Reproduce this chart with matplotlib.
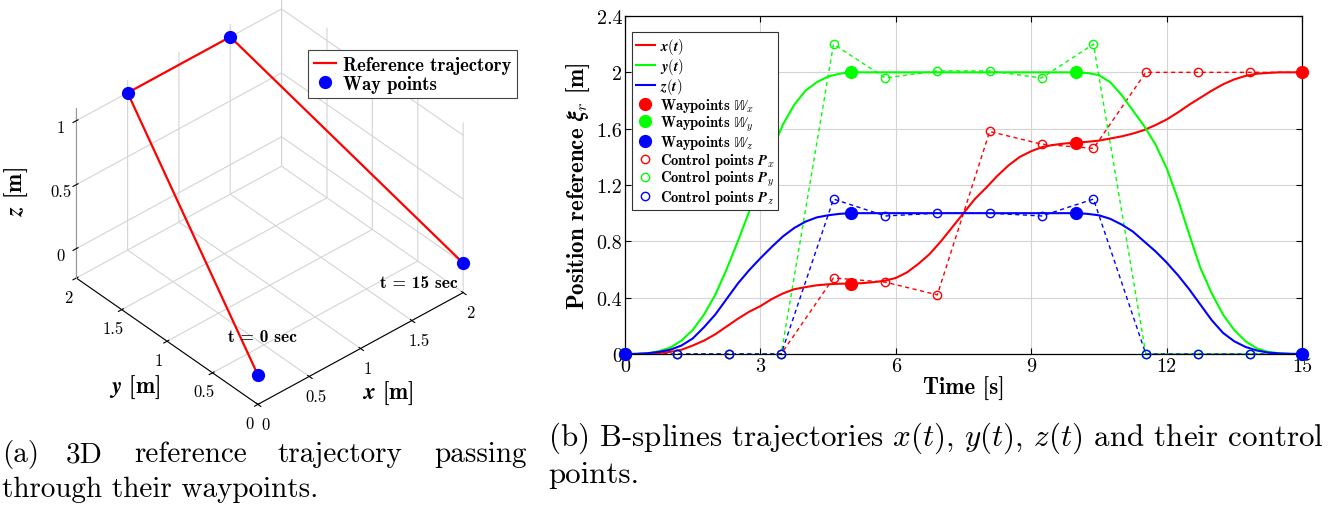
import numpy as np
import matplotlib
matplotlib.use("Agg")
import matplotlib.pyplot as plt

plt.rcParams['font.family'] = 'cmr10'
plt.rcParams['mathtext.fontset'] = 'cm'
plt.rcParams['axes.formatter.use_mathtext'] = True
plt.rcParams['grid.color'] = '#d4d4d4'
plt.rcParams['grid.linewidth'] = 0.8

# waypoints (t = 0, 5, 10, 15 s)
way_t = [0, 5, 10, 15]
way_x = [0, 0.5, 1.5, 2]
way_y = [0, 2, 2, 0]
way_z = [0, 1, 1, 0]

# control points of the B-splines
ctrl_t = [0, 1.15, 2.31, 3.46, 4.62, 5.77, 6.92, 8.08, 9.23, 10.38, 11.54, 12.69, 13.85, 15]
ctrl_x = [0, 0, 0, 0, 0.54, 0.51, 0.42, 1.58, 1.49, 1.46, 2, 2, 2, 2]
ctrl_y = [0, 0, 0, 0, 2.2, 1.96, 2.01, 2.01, 1.96, 2.2, 0, 0, 0, 0]
ctrl_z = [0, 0, 0, 0, 1.1, 0.98, 1.0, 1.0, 0.98, 1.1, 0, 0, 0, 0]

# trajectories every 0.25 s
time = np.arange(0, 15.25, 0.25)
traj_x = [0, 0.0, 0.002, 0.007, 0.015, 0.03, 0.06, 0.095, 0.14, 0.195, 0.25, 0.30, 0.34, 0.39,
          0.43, 0.46, 0.475, 0.488, 0.495, 0.499, 0.5,
          0.503, 0.51, 0.52, 0.54, 0.58, 0.64, 0.71, 0.80, 0.90, 1.0, 1.10, 1.18, 1.265, 1.34,
          1.40, 1.44, 1.47, 1.485, 1.495, 1.5,
          1.507, 1.515, 1.53, 1.545, 1.565, 1.59, 1.625, 1.665, 1.715, 1.77, 1.82, 1.87, 1.915,
          1.95, 1.975, 1.99, 1.996, 2.0, 2.0, 2.0]
traj_y = [0, 0.0, 0.005, 0.02, 0.045, 0.095, 0.17, 0.28, 0.42, 0.60, 0.80, 1.01, 1.22, 1.44,
          1.63, 1.77, 1.87, 1.93, 1.97, 1.99, 2.0,
          2.0, 2.0, 2.0, 2.0, 2.0, 2.0, 2.0, 2.0, 2.0, 2.0, 2.0, 2.0, 2.0, 2.0,
          2.0, 2.0, 2.0, 2.0, 2.0, 2.0,
          1.995, 1.98, 1.93, 1.84, 1.73, 1.62, 1.49, 1.32, 1.10, 0.85, 0.61, 0.43, 0.28,
          0.17, 0.09, 0.04, 0.015, 0.005, 0.001, 0]
traj_z = [0, 0.001, 0.005, 0.015, 0.03, 0.06, 0.11, 0.19, 0.28, 0.39, 0.50, 0.595, 0.68, 0.76,
          0.835, 0.895, 0.94, 0.97, 0.985, 0.995, 1.0,
          1.0, 1.0, 1.0, 1.0, 1.0, 1.0, 1.0, 1.0, 1.0, 1.0, 1.0, 1.0, 1.0, 1.0,
          1.0, 1.0, 1.0, 1.0, 1.0, 1.0,
          0.995, 0.985, 0.96, 0.92, 0.87, 0.80, 0.73, 0.65, 0.56, 0.46, 0.35, 0.24, 0.15,
          0.09, 0.05, 0.025, 0.01, 0.004, 0.001, 0]

W, H = 1338, 506
fig = plt.figure(figsize=(W / 100, H / 100), dpi=100)

# ---------------- (a) 3D trajectory ----------------
ax1 = fig.add_axes([-5 / W, 30 / H, 535 / W, 535 / H], projection='3d')
ax1.set_proj_type('ortho')
ax1.set_box_aspect((4, 4, 3.15), zoom=0.805)
ax1.plot(way_x, way_y, way_z, color='red', lw=1.6, label='Reference trajectory')
ax1.plot(way_x, way_y, way_z, 'o', color='blue', ms=8.5, label='Way points')
ax1.set_xlim(0, 2)
ax1.set_ylim(0, 2)
ax1.set_zlim(-0.23, 1.1)
ax1.set_xticks([0, 0.5, 1, 1.5, 2])
ax1.set_yticks([0, 0.5, 1, 1.5, 2])
ax1.set_zticks([0, 0.5, 1])
ax1.set_xticklabels(['0', '0.5', '1', '1.5', '2'])
ax1.set_yticklabels(['0', '0.5', '1', '1.5', '2'])
ax1.set_zticklabels(['0', '0.5', '1'])
ax1.tick_params(labelsize=12, pad=0)
ax1.view_init(elev=38, azim=-131.5)
for a in (ax1.xaxis, ax1.yaxis, ax1.zaxis):
    a.set_pane_color((1, 1, 1, 0))
    a.pane.set_edgecolor('#d4d4d4')
    a.set_rotate_label(False)
ax1.xaxis.line.set_color('black')
ax1.yaxis.line.set_color('black')
ax1.zaxis.line.set_color('#999999')
ax1.set_xlabel(r'$\mathbfit{x}$ [m]', fontfamily='cmb10', fontsize=16.5, labelpad=9)
ax1.set_ylabel(r'$\mathbfit{y}$ [m]', fontfamily='cmb10', fontsize=16.5, labelpad=11)
ax1.set_zlabel(r'$\mathbfit{z}$ [m]', fontfamily='cmb10', fontsize=16.5, rotation=90, labelpad=10)
leg1 = ax1.legend(loc='upper left', bbox_to_anchor=(308 / W, 1 - 51 / H),
                  bbox_transform=fig.transFigure, prop={'family': 'cmb10', 'size': 13.4},
                  fancybox=False, edgecolor='#444444', framealpha=1, borderpad=0.3,
                  labelspacing=0.05, handlelength=1.2, handletextpad=0.4, borderaxespad=0)
leg1.get_frame().set_linewidth(0.8)
fig.text(262 / W, 1 - 338 / H, 't = 0 sec', fontfamily='cmb10', fontsize=12.5, ha='center', va='center')
fig.text(419 / W, 1 - 284 / H, 't = 15 sec', fontfamily='cmb10', fontsize=12.5, ha='center', va='center')

# ---------------- (b) B-spline trajectories ----------------
ax2 = fig.add_axes([625 / W, 1 - 355 / H, (1302 - 625) / W, (355 - 17) / H])
cols = ['#ff0000', '#00ff00', '#0000ff']
names = ['x', 'y', 'z']
for traj, c, n in zip([traj_x, traj_y, traj_z], cols, names):
    ax2.plot(time, traj, color=c, lw=1.5, label=r'$\mathbfit{%s}(\mathbfit{t})$' % n, zorder=3)
for ctrl, c in zip([ctrl_x, ctrl_y, ctrl_z], cols):
    ax2.plot(ctrl_t, ctrl, '--', color=c, lw=1.0, dashes=(3, 2.5), zorder=2)
for way, c, n in zip([way_x, way_y, way_z], cols, names):
    ax2.plot(way_t, way, 'o', color=c, ms=8.5, clip_on=False, zorder=5,
             label=r'Waypoints $\mathbb{W}_{%s}$' % n)
for ctrl, c, n in zip([ctrl_x, ctrl_y, ctrl_z], cols, names):
    ax2.plot(ctrl_t, ctrl, 'o', mfc='none', mec=c, ms=6, mew=1.0, clip_on=False, zorder=4,
             label=r'Control points $\mathbfit{P}_{%s}$' % n)

ax2.set_xlim(0, 15)
ax2.set_ylim(0, 2.4)
ax2.set_xticks([0, 3, 6, 9, 12, 15])
ax2.set_yticks([0, 0.4, 0.8, 1.2, 1.6, 2.0, 2.4])
ax2.set_xticklabels(['0', '3', '6', '9', '12', '15'])
ax2.set_yticklabels(['0', '0.4', '0.8', '1.2', '1.6', '2', '2.4'])
ax2.tick_params(direction='in', length=4, top=True, right=True, labelsize=14.5, pad=2)
ax2.grid(True, zorder=0)
ax2.set_axisbelow(True)
for s in ax2.spines.values():
    s.set_linewidth(0.9)
ax2.set_xlabel('Time [s]', fontfamily='cmb10', fontsize=16.5, labelpad=1)
ax2.set_ylabel(r'Position reference $\mathbfit{\xi}_{r}$ [m]', fontfamily='cmb10', fontsize=16.5, labelpad=3)
leg2 = ax2.legend(loc='upper left', bbox_to_anchor=(7 / 677, 1 - 16 / 338),
                  prop={'family': 'cmb10', 'size': 10.5}, fancybox=False, edgecolor='#333333',
                  framealpha=1, borderpad=0.25, labelspacing=0.0, handlelength=1.35,
                  handletextpad=0.3, borderaxespad=0)
leg2.get_frame().set_linewidth(0.8)

# ---------------- captions ----------------
cap_a = ['(a)', '3D', 'reference', 'trajectory', 'passing']
cap_a_x = [2, 66, 134, 277, 434]
for w, xp in zip(cap_a, cap_a_x):
    fig.text(xp / W, 1 - 455 / H, w, fontsize=21, va='center')
fig.text(2 / W, 1 - 490 / H, 'through their waypoints.', fontsize=21, va='center')
fig.text(548 / W, 1 - 438 / H, r'(b) B-splines trajectories $x(t)$, $y(t)$, $z(t)$ and their control',
         fontsize=22.3, va='center')
fig.text(548 / W, 1 - 475 / H, 'points.', fontsize=22.3, va='center')

fig.savefig('out.png', dpi=100)
